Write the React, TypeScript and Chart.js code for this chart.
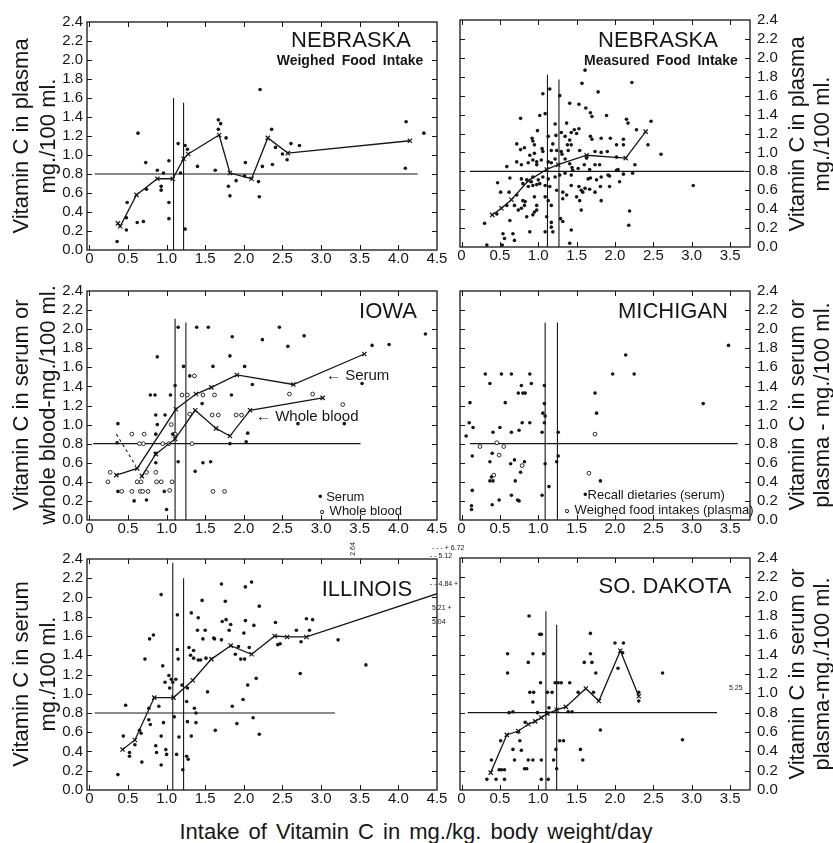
import React, { useEffect, useRef } from 'react';
import { Chart, registerables } from 'chart.js';
Chart.register(...registerables);

type P = [number, number];

// ---------- ticks ----------
const yTicks = [0, 0.2, 0.4, 0.6, 0.8, 1.0, 1.2, 1.4, 1.6, 1.8, 2.0, 2.2, 2.4];
const yTickLabels = ['0.0', '0.2', '0.4', '0.6', '0.8', '1.0', '1.2', '1.4', '1.6', '1.8', '2.0', '2.2', '2.4'];
const xTicksWide = [0, 0.5, 1.0, 1.5, 2.0, 2.5, 3.0, 3.5, 4.0, 4.5];
const xTickLabelsWide = ['0', '0.5', '1.0', '1.5', '2.0', '2.5', '3.0', '3.5', '4.0', '4.5'];
const xTicksNarrow = [0, 0.5, 1.0, 1.5, 2.0, 2.5, 3.0, 3.5];
const xTickLabelsNarrow = ['0', '0.5', '1.0', '1.5', '2.0', '2.5', '3.0', '3.5'];

// ---------- Nebraska, weighed food intake ----------
const nwLine: P[] = [[0.37, 0.28], [0.40, 0.25], [0.61, 0.58], [0.88, 0.75], [1.08, 0.75], [1.22, 0.96], [1.28, 1.01], [1.68, 1.21], [1.82, 0.81], [2.10, 0.75], [2.31, 1.18], [2.57, 1.02], [4.15, 1.15]];
const nwPoints: P[] = [[0.36, 0.09], [0.48, 0.34], [0.48, 0.21], [0.49, 0.50], [0.62, 0.29], [0.70, 0.30], [0.63, 1.23], [0.73, 0.92], [0.74, 0.64], [0.88, 0.84], [0.93, 0.67], [0.93, 0.63], [0.96, 0.81], [1.03, 0.94], [1.03, 0.50], [1.03, 0.33], [1.15, 1.12], [1.18, 0.81], [1.24, 1.10], [1.27, 1.06], [1.24, 0.22], [1.40, 0.88], [1.63, 0.84], [1.67, 1.37], [1.70, 1.33], [1.67, 1.27], [1.77, 1.18], [1.80, 0.67], [1.82, 0.57], [1.90, 0.73], [2.02, 0.92], [2.01, 0.78], [2.19, 0.72], [2.20, 0.56], [2.21, 1.69], [2.24, 0.88], [2.36, 1.27], [2.37, 0.90], [2.41, 1.08], [2.50, 1.01], [2.56, 0.95], [2.61, 1.12], [2.72, 1.10], [4.10, 1.35], [4.09, 0.86], [4.33, 1.23]];
const nwRefH: P[] = [[0.07, 0.8], [4.25, 0.8]];
const nwRefV1: P[] = [[1.09, 0], [1.09, 1.60]];
const nwRefV2: P[] = [[1.22, 0], [1.22, 1.55]];

// ---------- Nebraska, measured food intake ----------
const nmLine: P[] = [[0.40, 0.34], [0.52, 0.41], [0.65, 0.50], [0.87, 0.70], [1.11, 0.82], [1.26, 0.87], [1.63, 0.97], [2.14, 0.94], [2.40, 1.22]];
const nmPoints: P[] = [
  [1.06, 1.62], [1.28, 1.60], [1.78, 1.64], [1.41, 1.52], [1.53, 1.51], [1.62, 1.47], [1.68, 1.42], [1.70, 1.38], [1.89, 1.39], [0.77, 1.36], [1.02, 1.39], [1.09, 1.41], [2.15, 1.35], [2.17, 1.31], [2.47, 1.33], [1.22, 1.30], [1.37, 1.31], [1.53, 1.25], [1.47, 1.24], [1.43, 1.21], [1.50, 1.20], [1.30, 1.21], [0.99, 1.23], [0.92, 1.15], [0.93, 1.12], [1.13, 1.17], [1.23, 1.18], [1.19, 1.09], [1.35, 1.17], [1.41, 1.13], [1.38, 1.08], [1.43, 1.08], [1.68, 1.17], [1.70, 1.14], [1.82, 1.15], [1.94, 1.15], [2.02, 1.08], [2.11, 1.08], [2.11, 1.14], [2.28, 1.24], [2.43, 1.08], [2.60, 0.98], [3.02, 0.65],
  [0.72, 1.09], [0.77, 1.03], [0.82, 1.05], [0.89, 0.97], [0.95, 0.99], [0.95, 1.08], [1.05, 1.04], [1.06, 1.01], [1.17, 1.02], [1.24, 1.02], [1.30, 1.01], [1.31, 0.98], [1.39, 1.02], [1.54, 1.02], [1.63, 0.94], [1.74, 1.01], [1.82, 1.00], [1.90, 1.01], [2.02, 0.95],
  [0.72, 0.90], [0.78, 0.87], [0.87, 0.89], [0.93, 0.92], [0.98, 0.90], [0.98, 0.87], [1.04, 0.92], [1.13, 0.90], [1.17, 0.89], [1.22, 0.93], [1.35, 0.93], [1.41, 0.88], [1.44, 0.84], [1.52, 0.83], [1.60, 0.87], [1.67, 0.82], [1.74, 0.87], [1.80, 0.87], [1.91, 0.76], [2.02, 0.81], [2.04, 0.82], [2.11, 0.77], [2.23, 0.78], [2.26, 0.87], [0.59, 0.85],
  [0.63, 0.73], [0.78, 0.72], [0.80, 0.67], [0.85, 0.71], [0.91, 0.69], [0.93, 0.74], [1.00, 0.71], [1.06, 0.74], [1.13, 0.72], [1.22, 0.74], [1.28, 0.76], [1.35, 0.78], [1.43, 0.76], [1.45, 0.81], [1.65, 0.72], [1.68, 0.73], [1.76, 0.71], [1.82, 0.74], [1.93, 0.75], [2.06, 0.69],
  [0.62, 0.58], [0.72, 0.55], [0.87, 0.64], [0.93, 0.65], [0.98, 0.66], [1.02, 0.67], [1.09, 0.65], [1.15, 0.64], [1.24, 0.60], [1.32, 0.58], [1.43, 0.65], [1.53, 0.64], [1.56, 0.60], [1.61, 0.62], [1.58, 0.58], [1.67, 0.61], [1.74, 0.58], [1.81, 0.64], [1.93, 0.64],
  [0.80, 0.49], [0.82, 0.44], [0.83, 0.48], [0.95, 0.53], [0.98, 0.44], [0.98, 0.39], [1.09, 0.53], [1.13, 0.49], [1.17, 0.44], [1.32, 0.51], [1.37, 0.55], [1.50, 0.53], [1.54, 0.49], [1.82, 0.49], [0.59, 0.44], [0.69, 0.44], [0.74, 0.39], [0.78, 0.41],
  [0.63, 0.28], [0.85, 0.32], [0.93, 0.34], [0.95, 0.37], [1.11, 0.32], [1.17, 0.26], [1.17, 0.21], [1.29, 0.30], [1.32, 0.27], [1.43, 0.18], [1.56, 0.39], [2.19, 0.38], [2.18, 0.23],
  [0.54, 0.14], [0.56, 0.09], [0.67, 0.14], [0.69, 0.07], [0.89, 0.16], [1.09, 0.16], [1.19, 0.16], [1.41, 0.04],
  [1.15, 1.67], [1.57, 1.73], [1.61, 1.87], [2.22, 1.74], [0.30, 0.25], [0.33, 0.02], [0.47, 0.68], [0.51, 0.58], [0.46, 0.35], [0.53, 0.02],
];
const nmRefH: P[] = [[0.11, 0.8], [3.69, 0.8]];
const nmRefV1: P[] = [[1.12, 0], [1.12, 1.82]];
const nmRefV2: P[] = [[1.27, 0], [1.27, 1.77]];

// ---------- Iowa ----------
const iowaSerumLine: P[] = [[0.35, 0.47], [0.62, 0.54], [1.12, 1.16], [1.38, 1.32], [1.58, 1.39], [1.91, 1.52], [2.64, 1.42], [3.56, 1.74]];
const iowaWholeLine: P[] = [[0.68, 0.46], [0.86, 0.69], [1.11, 0.85], [1.37, 1.15], [1.64, 0.96], [1.82, 0.88], [2.08, 1.15], [3.02, 1.28]];
const iowaWholeDash: P[] = [[0.35, 0.90], [0.60, 0.57]];
const iowaSerumPts: P[] = [[1.15, 2.02], [1.39, 2.02], [1.54, 2.02], [1.85, 1.92], [2.46, 2.02], [2.24, 1.89], [0.88, 1.71], [1.82, 1.72], [1.60, 1.61], [2.01, 1.61], [1.22, 1.61], [1.11, 1.41], [1.30, 1.51], [0.79, 1.31], [0.85, 1.31], [1.05, 1.31], [1.84, 1.31], [2.11, 1.42], [0.86, 1.10], [0.98, 1.10], [1.46, 1.22], [0.37, 1.01], [0.86, 0.90], [1.08, 0.90], [0.88, 1.00], [0.36, 0.81], [1.82, 0.80], [2.03, 0.82], [2.05, 0.91], [0.86, 0.70], [1.15, 0.61], [1.47, 0.60], [1.57, 0.61], [1.37, 0.51], [0.37, 0.30], [0.58, 0.20], [0.74, 0.21], [1.00, 0.11], [0.97, 0.30], [2.57, 1.82], [2.78, 1.93], [3.66, 1.83], [3.88, 1.84], [3.53, 1.43], [4.35, 1.95], [2.70, 1.01], [3.30, 1.01], [0.86, 0.60]];
const iowaWholePts: P[] = [[1.36, 1.51], [1.20, 1.31], [1.27, 1.31], [1.47, 1.31], [1.62, 1.31], [1.30, 1.11], [1.59, 1.10], [1.67, 1.10], [1.90, 1.10], [1.97, 1.10], [0.55, 0.90], [0.71, 0.90], [1.11, 0.90], [1.06, 1.00], [0.65, 0.80], [0.70, 0.80], [0.95, 0.80], [1.03, 0.80], [1.33, 0.80], [0.27, 0.50], [0.74, 0.50], [0.86, 0.50], [0.24, 0.40], [0.42, 0.30], [0.55, 0.30], [0.66, 0.30], [0.69, 0.30], [0.76, 0.30], [1.04, 0.31], [1.60, 0.30], [1.75, 0.30], [0.87, 0.40], [0.93, 0.40], [1.07, 0.40], [0.62, 0.40], [0.67, 0.40], [2.59, 1.32], [2.89, 1.32], [3.28, 1.21]];
const iowaRefH: P[] = [[0.05, 0.8], [3.51, 0.8]];
const iowaRefV1: P[] = [[1.11, 0], [1.11, 2.11]];
const iowaRefV2: P[] = [[1.25, 0], [1.25, 2.07]];

// ---------- Michigan ----------
const michRecallPts: P[] = [[0.31, 1.53], [0.52, 1.53], [0.65, 1.53], [0.89, 1.53], [0.37, 1.43], [0.78, 1.41], [0.91, 1.43], [1.08, 1.41], [0.74, 1.33], [0.80, 1.33], [0.83, 1.33], [0.11, 1.23], [0.57, 1.23], [1.08, 1.22], [1.06, 1.12], [1.09, 1.09], [0.10, 1.02], [0.15, 0.97], [0.79, 1.02], [0.89, 1.02], [1.08, 1.02], [0.41, 0.92], [0.50, 0.97], [0.65, 0.92], [0.75, 0.94], [1.05, 0.92], [1.26, 0.92], [0.06, 0.88], [0.14, 0.67], [0.40, 0.70], [0.37, 0.61], [0.64, 0.59], [0.69, 0.63], [0.82, 0.61], [1.09, 0.59], [1.24, 0.61], [1.26, 0.67], [0.77, 0.50], [0.39, 0.45], [0.37, 0.41], [0.41, 0.41], [0.70, 0.41], [1.14, 0.35], [0.14, 0.31], [0.65, 0.26], [1.05, 0.26], [0.75, 0.20], [0.73, 0.21], [0.49, 0.21], [0.40, 0.16], [0.13, 0.15], [0.13, 0.11], [1.81, 0.41], [1.76, 1.12], [1.74, 1.33], [1.97, 1.53], [2.25, 1.53], [2.14, 1.73], [3.15, 1.22], [3.48, 1.83]];
const michWeighedPts: P[] = [[0.46, 0.81], [0.24, 0.77], [0.55, 0.77], [0.49, 0.68], [0.79, 0.57], [0.42, 0.47], [1.66, 0.49], [1.74, 0.90]];
const michRefH: P[] = [[0.11, 0.8], [3.60, 0.8]];
const michRefV1: P[] = [[1.09, 0], [1.09, 2.07]];
const michRefV2: P[] = [[1.25, 0], [1.25, 2.07]];

// ---------- Illinois ----------
const illLine: P[] = [[0.43, 0.42], [0.59, 0.52], [0.84, 0.96], [1.09, 0.96], [1.34, 1.14], [1.58, 1.36], [1.83, 1.50], [2.10, 1.41], [2.40, 1.60], [2.56, 1.59], [2.81, 1.59], [4.84, 2.13]];
const illPoints: P[] = [[0.37, 0.16], [0.47, 0.88], [0.44, 0.56], [0.52, 0.39], [0.52, 0.35], [0.59, 0.47], [0.65, 0.62], [0.67, 0.59], [0.68, 0.29], [0.72, 1.36], [0.77, 0.73], [0.79, 0.68], [0.77, 0.85], [0.78, 1.57], [0.83, 1.61], [0.86, 0.46], [0.87, 0.39], [0.90, 0.87], [0.93, 0.56], [0.93, 0.26], [0.93, 2.03], [0.95, 1.29], [0.96, 0.70], [0.98, 1.12], [0.99, 0.42], [1.00, 0.37], [1.03, 1.19], [1.04, 1.06], [1.06, 1.15], [1.08, 1.12], [1.10, 0.76], [1.12, 1.15], [1.13, 0.37], [1.14, 1.82], [1.14, 1.46], [1.15, 1.36], [1.16, 0.55], [1.20, 1.09], [1.21, 0.21], [1.26, 0.92], [1.27, 1.06], [1.27, 0.71], [1.26, 0.35], [1.28, 0.32], [1.29, 1.48], [1.31, 1.40], [1.32, 1.84], [1.32, 0.56], [1.35, 1.45], [1.35, 1.37], [1.36, 0.85], [1.38, 0.70], [1.38, 0.80], [1.40, 1.66], [1.41, 1.35], [1.41, 1.79], [1.44, 1.35], [1.46, 1.97], [1.47, 1.57], [1.50, 1.66], [1.53, 1.02], [1.51, 1.37], [1.61, 1.58], [1.62, 1.57], [1.63, 0.62], [1.71, 1.56], [1.71, 2.14], [1.72, 1.75], [1.76, 1.96], [1.77, 1.77], [1.81, 1.66], [1.83, 1.72], [1.85, 0.87], [1.89, 1.41], [1.91, 0.69], [1.93, 1.49], [1.96, 1.36], [1.99, 0.94], [2.00, 1.63], [2.01, 1.36], [2.02, 2.11], [2.02, 1.76], [2.05, 1.09], [2.07, 1.48], [2.10, 2.16], [2.12, 0.75], [2.13, 1.71], [2.16, 1.16], [2.20, 0.58], [2.20, 1.91], [2.41, 1.74], [2.44, 1.51], [2.47, 1.52], [2.73, 1.21], [2.74, 1.54], [2.68, 1.66], [2.81, 1.78], [2.85, 1.66], [2.89, 1.77], [3.22, 1.56], [3.58, 1.30]];
const illRefH: P[] = [[0.07, 0.8], [3.18, 0.8]];
const illRefV1: P[] = [[1.08, 0], [1.08, 2.36]];
const illRefV2: P[] = [[1.22, 0], [1.22, 2.20]];

// ---------- South Dakota ----------
const sdLine: P[] = [[0.38, 0.18], [0.59, 0.57], [0.74, 0.61], [0.87, 0.68], [0.96, 0.71], [1.04, 0.75], [1.12, 0.79], [1.24, 0.83], [1.36, 0.86], [1.62, 1.05], [1.79, 0.92], [2.07, 1.44], [2.31, 0.97]];
const sdPoints: P[] = [[0.33, 0.11], [0.39, 0.31], [0.45, 0.11], [0.49, 0.21], [0.52, 0.21], [0.56, 0.21], [0.56, 0.11], [0.51, 0.51], [0.60, 1.41], [0.60, 1.21], [0.62, 0.80], [0.67, 0.81], [0.67, 0.42], [0.69, 0.31], [0.74, 0.60], [0.76, 0.51], [0.78, 0.41], [0.83, 0.70], [0.82, 0.22], [0.85, 0.22], [0.87, 1.32], [0.88, 1.80], [0.87, 0.31], [0.89, 1.01], [0.93, 1.41], [0.94, 1.01], [0.93, 0.91], [0.93, 0.31], [0.99, 0.80], [1.02, 1.61], [1.04, 1.61], [1.03, 1.11], [1.04, 0.31], [1.04, 0.11], [1.07, 1.41], [1.11, 0.80], [1.14, 0.85], [1.13, 0.11], [1.12, 1.01], [1.18, 1.01], [1.20, 0.31], [1.22, 1.11], [1.23, 0.42], [1.24, 0.22], [1.26, 1.11], [1.28, 0.51], [1.33, 0.51], [1.30, 1.11], [1.41, 1.11], [1.39, 0.81], [1.44, 0.81], [1.52, 1.01], [1.55, 0.42], [1.58, 0.31], [1.60, 1.32], [1.68, 1.62], [1.68, 1.41], [1.70, 1.32], [1.72, 1.01], [1.75, 1.21], [1.81, 0.62], [2.00, 1.52], [2.11, 1.52], [2.10, 1.42], [2.04, 1.26], [2.31, 1.01], [2.31, 0.92], [2.62, 1.21], [2.88, 0.52]];
const sdRefH: P[] = [[0.08, 0.8], [3.33, 0.8]];
const sdRefV1: P[] = [[1.10, 0], [1.10, 1.85]];
const sdRefV2: P[] = [[1.24, 0], [1.24, 1.71]];

// ---------- drawing helpers ----------
const INK = '#161616';
const FONT = "'Liberation Sans', Arial, Helvetica, sans-serif";

const toXY = (a: P[]) => a.map(([x, y]) => ({ x, y }));
const refDs = (a: P[]) => ({ data: toXY(a), showLine: true, borderColor: INK, borderWidth: 1.1, pointRadius: 0, order: 3 });
const dotDs = (a: P[]) => ({ data: toXY(a), showLine: false, pointRadius: 1.8, pointBackgroundColor: INK, pointBorderWidth: 0, order: 2 });
const openDs = (a: P[]) => ({ data: toXY(a), showLine: false, pointRadius: 1.9, pointBackgroundColor: '#fff', pointBorderColor: INK, pointBorderWidth: 0.9, order: 2 });
const meanDs = (a: P[]) => ({ data: toXY(a), showLine: true, borderColor: INK, borderWidth: 1.3, pointStyle: 'crossRot', pointRadius: 3, pointBorderColor: INK, pointBorderWidth: 1.2, order: 1 });
const dashDs = (a: P[]) => ({ data: toXY(a), showLine: true, borderColor: INK, borderWidth: 1.1, borderDash: [3, 3], pointRadius: 0, order: 1 });

const framePlugin = {
  id: 'frame',
  afterDraw(chart: any) {
    const { ctx, chartArea: a, scales } = chart;
    ctx.save();
    ctx.strokeStyle = INK;
    ctx.lineWidth = 1.3;
    ctx.strokeRect(a.left, a.top, a.right - a.left, a.bottom - a.top);
    ctx.lineWidth = 1;
    const L = 5;
    ctx.beginPath();
    scales.x.ticks.forEach((t: any) => {
      const px = Math.round(scales.x.getPixelForValue(t.value)) + 0.5;
      if (px < a.left + 2 || px > a.right - 2) return;
      ctx.moveTo(px, a.bottom); ctx.lineTo(px, a.bottom - L);
      ctx.moveTo(px, a.top); ctx.lineTo(px, a.top + L);
    });
    scales.y.ticks.forEach((t: any) => {
      const py = Math.round(scales.y.getPixelForValue(t.value)) + 0.5;
      if (py < a.top + 2 || py > a.bottom - 2) return;
      ctx.moveTo(a.left, py); ctx.lineTo(a.left + L, py);
      ctx.moveTo(a.right, py); ctx.lineTo(a.right - L, py);
    });
    ctx.stroke();
    ctx.restore();
  },
};

type Box = { x: number; y: number; w: number; h: number };

function Panel({ box, side, xMin, xMax, xTicks, xLabels, datasets }: { box: Box; side: 'left' | 'right'; xMin: number; xMax: number; xTicks: number[]; xLabels: string[]; datasets: any[] }) {
  const ref = useRef<HTMLCanvasElement>(null);
  const padL = side === 'left' ? 0 : 12;
  const padR = side === 'left' ? 16 : 0;
  const yW = side === 'left' ? 44 : 48;
  const xH = 26;
  const padT = 9;
  const W = box.w + yW + padL + padR;
  const H = box.h + padT + xH;
  const cLeft = side === 'left' ? box.x - yW : box.x - padL;
  const cTop = box.y - padT;
  useEffect(() => {
    const chart = new Chart(ref.current as HTMLCanvasElement, {
      type: 'scatter',
      data: { datasets },
      options: {
        animation: false,
        responsive: false,
        events: [],
        layout: { padding: { left: padL, right: padR, top: padT, bottom: 0 } },
        plugins: { legend: { display: false }, tooltip: { enabled: false } },
        scales: {
          x: {
            type: 'linear', min: xMin, max: xMax,
            grid: { display: false, drawTicks: false, tickLength: 0 }, border: { display: false },
            afterBuildTicks: (s: any) => { s.ticks = xTicks.map((v) => ({ value: v })); },
            afterFit: (s: any) => { s.height = xH; s.paddingLeft = 0; s.paddingRight = 0; },
            ticks: {
              autoSkip: false, maxRotation: 0, padding: 0, color: INK,
              font: { family: FONT, size: 15 },
              callback: (v: any) => xLabels[xTicks.indexOf(v)] ?? '',
            },
          },
          y: {
            type: 'linear', position: side, min: 0, max: 2.4,
            grid: { display: false, drawTicks: false, tickLength: 0 }, border: { display: false },
            afterBuildTicks: (s: any) => { s.ticks = yTicks.map((v) => ({ value: v })); },
            afterFit: (s: any) => { s.width = yW; s.paddingTop = 0; s.paddingBottom = 0; },
            ticks: {
              autoSkip: false, padding: side === 'left' ? 4 : 7, color: INK,
              font: { family: FONT, size: 15 },
              callback: (v: any) => yTickLabels[yTicks.indexOf(v)] ?? '',
            },
          },
        },
      } as any,
      plugins: [framePlugin],
    });
    return () => chart.destroy();
  }, []);
  return <canvas ref={ref} width={W} height={H} style={{ position: 'absolute', left: cLeft, top: cTop, width: W, height: H }} />;
}

function T({ x, y, size, children, weight, anchor = 'middle', ws, rot }: any) {
  const tx = anchor === 'middle' ? '-50%' : anchor === 'end' ? '-100%' : '0';
  return (
    <div style={{ position: 'absolute', left: x, top: y, transform: `translate(${tx}, -50%)${rot ? ` rotate(${rot}deg)` : ''}`, fontFamily: FONT, fontSize: size, fontWeight: weight || 400, whiteSpace: 'nowrap', color: INK, lineHeight: 1, wordSpacing: ws || 0 }}>
      {children}
    </div>
  );
}

function VTitle({ cx, cy, lines, size = 22, lh = 27 }: { cx: number; cy: number; lines: string[]; size?: number; lh?: number }) {
  return (
    <div style={{ position: 'absolute', left: cx, top: cy, transform: 'translate(-50%, -50%) rotate(-90deg)', fontFamily: FONT, fontSize: size, lineHeight: `${lh}px`, whiteSpace: 'nowrap', textAlign: 'center', color: INK }}>
      {lines.map((l, i) => <div key={i}>{l}</div>)}
    </div>
  );
}

const L_X = { min: -0.03, max: 4.5 };
const R_X = { min: -0.02, max: 3.76 };

export default function App() {
  return (
    <div style={{ position: 'absolute', left: 0, top: 0, width: 833, height: 843, background: '#fff', overflow: 'hidden' }}>
      <Panel box={{ x: 87, y: 22, w: 350, h: 228 }} side="left" xMin={L_X.min} xMax={L_X.max} xTicks={xTicksWide} xLabels={xTickLabelsWide}
        datasets={[refDs(nwRefH), refDs(nwRefV1), refDs(nwRefV2), dotDs(nwPoints), meanDs(nwLine)]} />
      <Panel box={{ x: 460, y: 20, w: 290, h: 227 }} side="right" xMin={R_X.min} xMax={R_X.max} xTicks={xTicksNarrow} xLabels={xTickLabelsNarrow}
        datasets={[refDs(nmRefH), refDs(nmRefV1), refDs(nmRefV2), dotDs(nmPoints), meanDs(nmLine)]} />
      <Panel box={{ x: 87, y: 291, w: 350, h: 229 }} side="left" xMin={L_X.min} xMax={L_X.max} xTicks={xTicksWide} xLabels={xTickLabelsWide}
        datasets={[refDs(iowaRefH), refDs(iowaRefV1), refDs(iowaRefV2), dotDs(iowaSerumPts), openDs(iowaWholePts), meanDs(iowaSerumLine), meanDs(iowaWholeLine), dashDs(iowaWholeDash)]} />
      <Panel box={{ x: 460, y: 291, w: 290, h: 229 }} side="right" xMin={R_X.min} xMax={R_X.max} xTicks={xTicksNarrow} xLabels={xTickLabelsNarrow}
        datasets={[refDs(michRefH), refDs(michRefV1), refDs(michRefV2), dotDs(michRecallPts), openDs(michWeighedPts)]} />
      <Panel box={{ x: 87, y: 559, w: 350, h: 231 }} side="left" xMin={L_X.min} xMax={L_X.max} xTicks={xTicksWide} xLabels={xTickLabelsWide}
        datasets={[refDs(illRefH), refDs(illRefV1), refDs(illRefV2), dotDs(illPoints), meanDs(illLine)]} />
      <Panel box={{ x: 460, y: 558, w: 290, h: 232 }} side="right" xMin={R_X.min} xMax={R_X.max} xTicks={xTicksNarrow} xLabels={xTickLabelsNarrow}
        datasets={[refDs(sdRefH), refDs(sdRefV1), refDs(sdRefV2), dotDs(sdPoints), meanDs(sdLine)]} />

      {/* left axis titles */}
      <VTitle cx={34} cy={136} lines={['Vitamin C in plasma', 'mg./100 ml.']} />
      <VTitle cx={34} cy={405} lines={['Vitamin C in serum or', 'whole blood-mg./100 ml.']} />
      <VTitle cx={34} cy={674} lines={['Vitamin C in serum', 'mg./100 ml.']} />
      {/* right axis titles */}
      <VTitle cx={809} cy={134} lines={['Vitamin C in plasma', 'mg./100 ml.']} lh={25} />
      <VTitle cx={809} cy={405} lines={['Vitamin C in serum or', 'plasma - mg./100 ml.']} lh={25} />
      <VTitle cx={809} cy={674} lines={['Vitamin C in serum or', 'plasma-mg./100 ml.']} lh={25} />

      {/* panel titles */}
      <T x={351} y={40} size={22}>NEBRASKA</T>
      <T x={350} y={60} size={14} weight={600} ws={3}>Weighed Food Intake</T>
      <T x={658} y={40} size={22}>NEBRASKA</T>
      <T x={661} y={60} size={14} weight={600} ws={3}>Measured Food Intake</T>
      <T x={388} y={311} size={22}>IOWA</T>
      <T x={673} y={311} size={22}>MICHIGAN</T>
      <T x={367} y={589} size={22}>ILLINOIS</T>
      <T x={665} y={586} size={22}>SO. DAKOTA</T>

      {/* in-panel labels */}
      <T x={326} y={374} size={15} anchor="start">← Serum</T>
      <T x={256} y={415} size={15} anchor="start">← Whole blood</T>
      <T x={318} y={496} size={13} anchor="start">• Serum</T>
      <T x={318} y={510} size={13} anchor="start">∘ Whole blood</T>
      <T x={583} y={494} size={13} anchor="start">•Recall dietaries (serum)</T>
      <T x={563} y={509} size={13} anchor="start">∘ Weighed food intakes (plasma)</T>

      {/* off-scale values */}
      <T x={352} y={549} size={7} rot={-90}>2.64</T>
      <T x={432} y={547} size={7} anchor="start">- - - + 6.72</T>
      <T x={430} y={555} size={7} anchor="start">- - 5.12</T>
      <T x={430} y={583} size={7} anchor="start">- - 4.84 +</T>
      <T x={432} y={607} size={7} anchor="start">5.21 +</T>
      <T x={432} y={621} size={7} anchor="start">5.04</T>
      <T x={729} y={687} size={7} anchor="start">5.25</T>

      {/* x axis title */}
      <T x={416} y={832} size={22} ws={3}>Intake of Vitamin C in mg./kg. body weight/day</T>
    </div>
  );
}
